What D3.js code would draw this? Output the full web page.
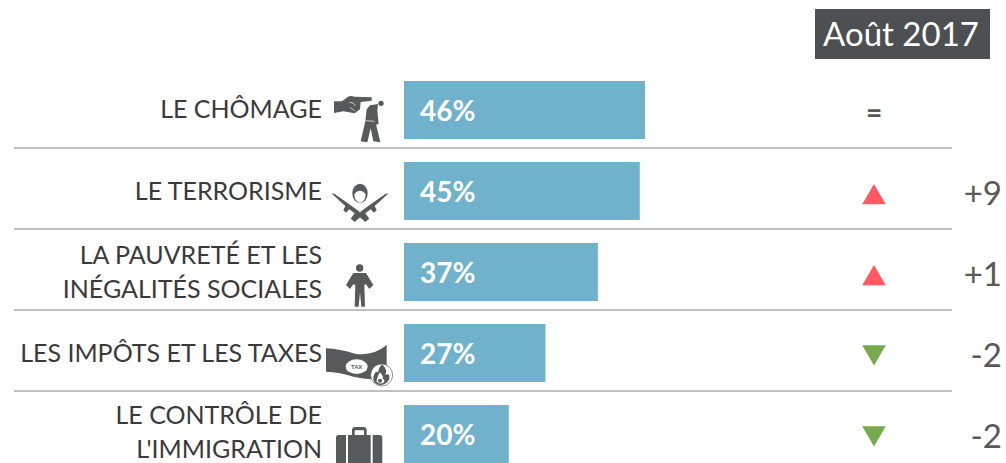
<!DOCTYPE html>
<html>
<head>
<meta charset="utf-8">
<script src="https://cdn.jsdelivr.net/npm/d3@7"></script>
<style>
  html, body { margin: 0; background: #fff; }
  svg { display: block; }
  text { font-family: Lato, "Open Sans", sans-serif; }
</style>
</head>
<body>
<svg id="chart" width="1006" height="463"></svg>
<script>
var title = "Août 2017";
var categories = ["le chomage", "le terrorisme", "la pauvrete", "les impots", "l'immigration"];
var labels = [
    ["LE CHÔMAGE"],
    ["LE TERRORISME"],
    ["LA PAUVRETÉ ET LES", "INÉGALITÉS SOCIALES"],
    ["LES IMPÔTS ET LES TAXES"],
    ["LE CONTRÔLE DE", "L'IMMIGRATION"]
];
var values = [46, 45, 37, 27, 20];
var trends = ["same", "up", "up", "down", "down"];
var deltas = ["", "+9", "+1", "-2", "-2"];

var svg = d3.select("#chart");
var DARK = "#595959";

var x = d3.scaleLinear().domain([0, 46]).range([404, 645]);
var y = d3.scaleBand().domain(categories).range([81, 463]).paddingInner(0.284).paddingOuter(0);
var center = function (c) { return y(c) + y.bandwidth() / 2; };
var rowBottom = function (c) { return y(c) + y.bandwidth() + 9; };

// separators between rows
svg.selectAll(".sep").data(categories.slice(0, 4)).enter().append("line")
    .attr("class", "sep")
    .attr("x1", 14).attr("x2", 952)
    .attr("y1", rowBottom).attr("y2", rowBottom)
    .attr("stroke", "#bfc1c1").attr("stroke-width", 2);

// bars
svg.selectAll(".bar").data(categories).enter().append("rect")
    .attr("class", "bar")
    .attr("x", x(0))
    .attr("y", function (c) { return y(c); })
    .attr("width", function (c, i) { return x(values[i]) - x(0); })
    .attr("height", y.bandwidth())
    .attr("fill", "#70b1cb");

svg.selectAll(".pct").data(categories).enter().append("text")
    .attr("class", "pct")
    .attr("x", x(0) + 16)
    .attr("y", function (c) { return center(c) + 11; })
    .attr("font-size", 28).attr("font-weight", 700).attr("fill", "#fff")
    .text(function (c, i) { return values[i] + "%"; });

// row labels
var lineGap = 34;
var bases = [118, 200, 264, 362, 424];
categories.forEach(function (c, i) {
    labels[i].forEach(function (s, j) {
        svg.append("text")
            .attr("x", 322).attr("y", bases[i] + j * lineGap)
            .attr("text-anchor", "end")
            .attr("font-size", 25).attr("fill", "#3a3a3a")
            .text(s);
    });
});

// trend marks
var tri = d3.symbol().type(d3.symbolTriangle).size(240);
categories.forEach(function (c, i) {
    var cy = center(c);
    if (trends[i] == "same") {
        svg.append("text").attr("x", 874).attr("y", cy + 13).attr("text-anchor", "middle")
            .attr("font-size", 28).attr("font-weight", 700).attr("fill", DARK).text("=");
    } else if (trends[i] == "up") {
        svg.append("path").attr("d", tri)
            .attr("transform", "translate(874," + (cy + 6.5) + ")")
            .attr("fill", "#ff5a64");
    } else {
        svg.append("path").attr("d", tri)
            .attr("transform", "translate(874," + (cy - 1) + ") rotate(180)")
            .attr("fill", "#78a94e");
    }
    svg.append("text").attr("x", 1002).attr("y", cy + 14).attr("text-anchor", "end")
        .attr("font-size", 33).attr("fill", DARK).text(deltas[i]);
});

// date tag
svg.append("rect").attr("x", 815).attr("y", 9).attr("width", 175).attr("height", 50).attr("fill", "#4d5052");
svg.append("text").attr("x", 901).attr("y", 46).attr("text-anchor", "middle")
    .attr("font-size", 33).attr("fill", "#fff").text(title);

// icons, sketched in zoomed-crop coordinates
var ICON = "#58595b";
function icon(ox, oy) {
    return svg.append("g").attr("transform", "translate(" + ox + "," + oy + ") scale(0.3333)").attr("fill", ICON);
}

var g1 = icon(320, 80);
g1.append("path").attr("d", "M42 64 L66 64 L84 50 Q92 46 104 50 L155 52 L155 62 L122 66 L120 88 L104 100 L70 94 L42 99 Z");
g1.append("path").attr("d", "M88 68 Q102 66 106 78 M90 82 L104 92").attr("fill", "none").attr("stroke", "#fff").attr("stroke-width", 2);
g1.append("circle").attr("cx", 183).attr("cy", 70).attr("r", 8);
g1.append("path").attr("d", "M174 72 L150 76 L140 88 L136 124 L122 184 L142 187 L152 145 L160 184 L181 187 L166 124 L168 134 L176 132 L172 92 Z");
g1.append("path").attr("d", "M136 122 L164 124").attr("fill", "none").attr("stroke", "#fff").attr("stroke-width", 2);

var g2 = icon(320, 80);
g2.append("ellipse").attr("cx", 120).attr("cy", 340).attr("rx", 23).attr("ry", 29);
g2.append("path").attr("d", "M103 342 Q120 322 137 342 Q136 366 120 368 Q104 366 103 342 Z").attr("fill", "#fff");
var gun = "M34 340 L44 342 L75 364 L112 390 L145 418 L136 426 L118 410 L104 424 L92 416 L104 400 L88 388 L78 398 L70 390 L76 378 L60 364 Z";
g2.append("path").attr("d", gun);
g2.append("path").attr("d", gun).attr("transform", "translate(240,0) scale(-1,1)");

var g3 = icon(320, 235);
g3.append("circle").attr("cx", 119).attr("cy", 99).attr("r", 11);
g3.append("path").attr("d", "M100 114 L138 114 L160 150 L148 162 L138 148 L133 150 L135 215 L124 215 L120 172 L116 215 L104 215 L106 150 L100 148 L90 162 L78 150 Z");

var g4 = icon(320, 235);
g4.append("path").attr("d", "M18 340 Q60 342 105 356 Q160 364 200 330 L200 425 Q160 440 100 425 Q60 412 18 410 Z");
g4.append("ellipse").attr("cx", 110).attr("cy", 395).attr("rx", 33).attr("ry", 22).attr("fill", "#fff");
g4.append("text").attr("x", 110).attr("y", 401).attr("text-anchor", "middle").attr("font-size", 18)
    .attr("font-weight", 700).attr("fill", ICON).text("TAX");
g4.append("circle").attr("cx", 185).attr("cy", 420).attr("r", 33).attr("fill", "#fff").attr("stroke", ICON).attr("stroke-width", 2);
g4.append("path").attr("d", "M186 388 Q204 405 196 420 Q210 412 208 432 Q200 450 178 450 Q158 446 160 426 Q166 405 174 412 Q176 398 186 388 Z");
g4.append("path").attr("d", "M180 412 Q192 426 188 432 Q196 432 192 442 Q180 450 170 440 Q170 428 180 412 Z").attr("fill", "#fff");
g4.append("circle").attr("cx", 180).attr("cy", 437).attr("r", 6);

var g5 = icon(320, 235);
g5.append("path").attr("d", "M96 600 L96 586 Q96 576 106 576 L130 576 Q140 576 140 586 L140 600 L132 600 L132 586 L104 586 L104 600 Z");
g5.append("path").attr("d", "M56 600 L78 600 L78 684 L48 684 L48 608 Q48 600 56 600 Z M84 600 L152 600 L152 684 L84 684 Z M158 600 L179 600 Q187 600 187 608 L187 684 L158 684 Z");
</script>
</body>
</html>
